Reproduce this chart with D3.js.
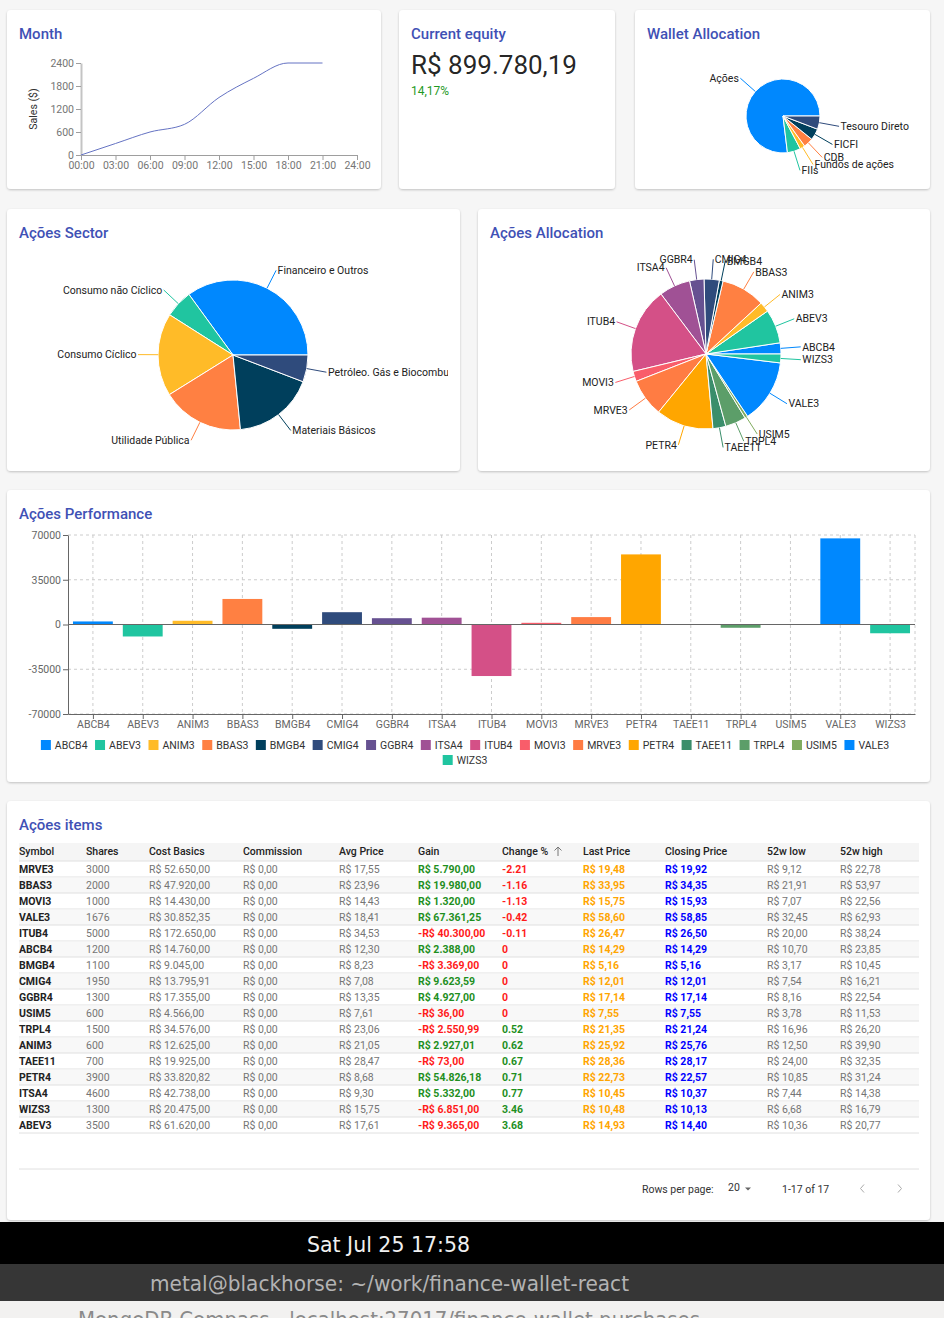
<!DOCTYPE html>
<html><head><meta charset="utf-8">
<script src="https://cdn.jsdelivr.net/npm/d3@7"></script>
<style>
html,body{margin:0;padding:0;background:#f6f6f6;overflow:hidden;}
svg{display:block;font-family:Roboto,"Noto Sans",sans-serif;}
</style></head><body>
<svg id="page" width="944" height="1318"></svg>
<script>
// ---------- DATA ----------
const monthTimes = [0, 3, 6, 9, 12, 15, 18, 21];
const monthSales = [0, 300, 600, 800, 1500, 2000, 2400, 2400];
const monthXTicks = [0, 3, 6, 9, 12, 15, 18, 21, 24];
const monthXTickLabels = ["00:00","03:00","06:00","09:00","12:00","15:00","18:00","21:00","24:00"];
const monthYTicks = [0, 600, 1200, 1800, 2400];

const equityText = "R$ 899.780,19";
const equityChangeText = "14,17%";

const walletCategories = ["Ações", "FIIs", "Fundos de ações", "CDB", "FICFI", "Tesouro Direto"];
const walletValues = [690000, 52000, 20000, 38000, 45000, 52000];

const sectorCategories = ["Financeiro e Outros", "Consumo não Cíclico", "Consumo Cíclico", "Utilidade Pública", "Materiais Básicos", "Petróleo. Gás e Biocombustíveis"];
const sectorValues = [211300, 36200, 107800, 107000, 106300, 35000];

const palette = ["#0088FE", "#20C5A0", "#FFBB28", "#FF8042", "#003f5c", "#2f4b7c", "#665191", "#a05195", "#d45087", "#f95d6a", "#ff7c43", "#ffa600", "#3a8e6b", "#5c9e69", "#80ac5f"];

// table (display order)
const symbols      = ["MRVE3","BBAS3","MOVI3","VALE3","ITUB4","ABCB4","BMGB4","CMIG4","GGBR4","USIM5","TRPL4","ANIM3","TAEE11","PETR4","ITSA4","WIZS3","ABEV3"];
const shares       = [3000, 2000, 1000, 1676, 5000, 1200, 1100, 1950, 1300, 600, 1500, 600, 700, 3900, 4600, 1300, 3500];
const costBasis    = [52650, 47920, 14430, 30852.35, 172650, 14760, 9045, 13795.91, 17355, 4566, 34576, 12625, 19925, 33820.82, 42738, 20475, 61620];
const commission   = [0,0,0,0,0,0,0,0,0,0,0,0,0,0,0,0,0];
const avgPrice     = [17.55, 23.96, 14.43, 18.41, 34.53, 12.30, 8.23, 7.08, 13.35, 7.61, 23.06, 21.05, 28.47, 8.68, 9.30, 15.75, 17.61];
const gain         = [5790, 19980, 1320, 67361.25, -40300, 2388, -3369, 9623.59, 4927, -36, -2550.99, 2927.01, -73, 54826.18, 5332, -6851, -9365];
const changePct    = [-2.21, -1.16, -1.13, -0.42, -0.11, 0, 0, 0, 0, 0, 0.52, 0.62, 0.67, 0.71, 0.77, 3.46, 3.68];
const lastPrice    = [19.48, 33.95, 15.75, 58.60, 26.47, 14.29, 5.16, 12.01, 17.14, 7.55, 21.35, 25.92, 28.36, 22.73, 10.45, 10.48, 14.93];
const closingPrice = [19.92, 34.35, 15.93, 58.85, 26.50, 14.29, 5.16, 12.01, 17.14, 7.55, 21.24, 25.76, 28.17, 22.57, 10.37, 10.13, 14.40];
const low52        = [9.12, 21.91, 7.07, 32.45, 20.00, 10.70, 3.17, 7.54, 8.16, 3.78, 16.96, 12.50, 24.00, 10.85, 7.44, 6.68, 10.36];
const high52       = [22.78, 53.97, 22.56, 62.93, 38.24, 23.85, 10.45, 16.21, 22.54, 11.53, 26.20, 39.90, 32.35, 31.24, 14.38, 16.79, 20.77];
const tableHeaders = ["Symbol","Shares","Cost Basics","Commission","Avg Price","Gain","Change %","Last Price","Closing Price","52w low","52w high"];

const perfYTicks = [70000, 35000, 0, -35000, -70000];

// ---------- HELPERS ----------
const svg = d3.select("#page");
const defs = svg.append("defs");
const f = defs.append("filter").attr("id","sh").attr("x","-5%").attr("y","-5%").attr("width","110%").attr("height","115%");
f.append("feDropShadow").attr("dx",0).attr("dy",1).attr("stdDeviation",1.3).attr("flood-color","#000").attr("flood-opacity",0.22);

const INDIGO = "#3f51b5";
function card(x, y, w, h, title) {
  svg.append("rect").attr("x",x).attr("y",y).attr("width",w).attr("height",h).attr("rx",4)
    .attr("fill","#fff").attr("filter","url(#sh)");
  if (title) svg.append("text").attr("x",x+12).attr("y",y+29).attr("fill",INDIGO)
    .attr("font-size",15).attr("font-weight",500).text(title);
}
const loc = d3.formatLocale({decimal:",", thousands:".", grouping:[3], currency:["R$ ",""], minus:"-"});
const brl = loc.format("$,.2f");
const plain = d3.formatLocale({decimal:".", thousands:"", grouping:[3], currency:["",""], minus:"-"}).format("d");

// ---------- CARDS ----------
card(7, 10, 374, 179, "Month");
card(399, 10, 216, 179, "Current equity");
card(635, 10, 295, 179, "Wallet Allocation");
card(7, 209, 453, 262, "Ações Sector");
card(478, 209, 452, 262, "Ações Allocation");
card(7, 490, 923, 292, "Ações Performance");
card(7, 801, 923, 419, "Ações items");

// ---------- MONTH LINE ----------
{
  const g = svg.append("g");
  const x = d3.scaleLinear().domain([0,24]).range([81,357]);
  const y = d3.scaleLinear().domain([0,2400]).range([155,63]);
  const xa = g.append("g").attr("transform","translate(0,155)")
    .call(d3.axisBottom(x).tickValues(monthXTicks).tickFormat((d,i)=>monthXTickLabels[i]).tickSizeOuter(0).tickSizeInner(5).tickPadding(1.5));
  const ya = g.append("g").attr("transform","translate(81,0)")
    .call(d3.axisLeft(y).tickValues(monthYTicks).tickFormat(plain).tickSizeOuter(0).tickSizeInner(5).tickPadding(2));
  [xa, ya].forEach(a => {
    a.select(".domain").attr("stroke","#9e9e9e");
    a.selectAll(".tick line").attr("stroke","#9e9e9e");
    a.selectAll(".tick text").attr("fill","#757575").attr("font-size",10.5).attr("font-family","Roboto");
  });
  ya.select(".domain").attr("stroke","#c4c4c4").attr("stroke-width",2);
  g.append("text").attr("transform","translate(37,109) rotate(-90)").attr("text-anchor","middle")
    .attr("font-size",10.5).attr("fill","#333").text("Sales ($)");
  const line = d3.line().x((d,i)=>x(monthTimes[i])).y(d=>y(d)).curve(d3.curveMonotoneX);
  g.append("path").datum(monthSales).attr("d",line).attr("fill","none").attr("stroke","#6573c3").attr("stroke-width",1);
}

// ---------- EQUITY ----------
svg.append("text").attr("x",411).attr("y",74).attr("font-size",26).attr("fill","rgba(0,0,0,0.87)").text(equityText);
svg.append("text").attr("x",411).attr("y",95).attr("font-size",12).attr("fill","#1f9a1f").text(equityChangeText);

// ---------- PIES ----------
function pie(cx, cy, r, cats, vals, clipRight) {
  const g = svg.append("g");
  let lg = g;
  if (clipRight) {
    const id = "clip" + Math.round(cx);
    defs.append("clipPath").attr("id",id).append("rect").attr("x",0).attr("y",0).attr("width",clipRight).attr("height",1318);
    lg = g.append("g").attr("clip-path",`url(#${id})`);
  }
  const arcs = d3.pie().sort(null).startAngle(Math.PI/2).endAngle(Math.PI/2 - 2*Math.PI)(vals);
  const arc = d3.arc().innerRadius(0).outerRadius(r);
  g.selectAll("path.s").data(arcs).join("path").attr("class","s")
    .attr("transform",`translate(${cx},${cy})`).attr("d",arc)
    .attr("fill",(d,i)=>palette[i % palette.length]).attr("stroke","#fff").attr("stroke-width",1);
  arcs.forEach((d,i) => {
    const a = (d.startAngle + d.endAngle)/2;
    const p = rr => [cx + rr*Math.sin(a), cy - rr*Math.cos(a)];
    const [x1,y1] = p(r), [x2,y2] = p(r+20);
    g.append("line").attr("x1",x1).attr("y1",y1).attr("x2",x2).attr("y2",y2)
      .attr("stroke",palette[i % palette.length]).attr("stroke-width",1);
    const right = x2 > cx;
    lg.append("text").attr("x",x2 + (right ? 1.5 : -1.5)).attr("y",y2).attr("dy","0.35em")
      .attr("text-anchor", right ? "start" : "end")
      .attr("font-size",10.5).attr("fill","#222").text(cats[i]);
  });
}
pie(783, 116, 37, walletCategories, walletValues);
pie(233, 355, 75, sectorCategories, sectorValues, 448);

// allocation: current value per symbol, alphabetical
const alphaIdx = d3.range(symbols.length).sort((a,b)=>d3.ascending(symbols[a],symbols[b]));
const allocCats = alphaIdx.map(i=>symbols[i]);
const allocVals = alphaIdx.map(i=>shares[i]*lastPrice[i]);
pie(706, 354, 75, allocCats, allocVals);

// ---------- PERFORMANCE BARS ----------
{
  const g = svg.append("g");
  const perfGain = alphaIdx.map(i=>gain[i]);
  const xc = d3.scalePoint().domain(allocCats).range([68,915]).padding(0.5);
  const y = d3.scaleLinear().domain([-70000,70000]).range([714,535]);
  // grid
  perfYTicks.forEach(t => g.append("line").attr("x1",68).attr("x2",915).attr("y1",y(t)).attr("y2",y(t))
      .attr("stroke","#ccc").attr("stroke-dasharray","3 3"));
  allocCats.forEach(c => g.append("line").attr("x1",xc(c)).attr("x2",xc(c)).attr("y1",535).attr("y2",714)
      .attr("stroke","#ccc").attr("stroke-dasharray","3 3"));
  g.append("line").attr("x1",915).attr("x2",915).attr("y1",535).attr("y2",714).attr("stroke","#ccc").attr("stroke-dasharray","3 3");
  // bars
  const bw = xc.step()*0.8;
  g.selectAll("rect.b").data(perfGain).join("rect").attr("class","b")
    .attr("x",(d,i)=>xc(allocCats[i]) - bw/2).attr("width",bw)
    .attr("y",d=>y(Math.max(0,d))).attr("height",d=>Math.abs(y(d)-y(0)))
    .attr("fill",(d,i)=>palette[i % palette.length]);
  // zero line
  g.append("line").attr("x1",68).attr("x2",915).attr("y1",y(0)).attr("y2",y(0)).attr("stroke","#666");
  // axes
  const ya = g.append("g").attr("transform","translate(68,0)").call(d3.axisLeft(y).tickValues(perfYTicks).tickFormat(plain).tickSizeOuter(0).tickSizeInner(5).tickPadding(2));
  const xa = g.append("g").attr("transform","translate(0,714)").call(d3.axisBottom(xc).tickSizeOuter(0).tickSizeInner(5).tickPadding(1.5));
  [xa,ya].forEach(a=>{
    a.select(".domain").attr("stroke","#666");
    a.selectAll(".tick line").attr("stroke","#666");
    a.selectAll(".tick text").attr("fill","#666").attr("font-size",10.5).attr("font-family","Roboto");
  });
  // legend
  const lgG = g.append("g");
  const items = allocCats.map((c,i)=>{
    const t = lgG.append("text").attr("font-size",10.5).attr("fill","#333").text(c);
    return {c, i, t, w: t.node().getComputedTextLength()};
  });
  const gap = 7.5, maxW = 870, centerX = 465;
  const rows = [[]]; let rw = 0;
  items.forEach(it => {
    const iw = 10 + 4 + it.w + gap;
    if (rw + iw > maxW && rows[rows.length-1].length) { rows.push([]); rw = 0; }
    rows[rows.length-1].push(it); rw += iw;
  });
  rows.forEach((row, ri) => {
    const total = d3.sum(row, it=>10+4+it.w+gap) - gap;
    let cx = centerX - total/2;
    const yy = 745 + ri*15;
    row.forEach(it => {
      lgG.append("rect").attr("x",cx).attr("y",yy-5).attr("width",10).attr("height",10).attr("fill",palette[it.i % palette.length]);
      it.t.attr("x",cx+14).attr("y",yy).attr("dy","0.35em");
      cx += 10+4+it.w+gap;
    });
  });
}

// ---------- TABLE ----------
{
  const g = svg.append("g").attr("font-size",10.5);
  const colX = [19, 86, 149, 243, 339, 418, 502, 583, 665, 767, 840];
  g.append("rect").attr("x",19).attr("y",843).attr("width",900).attr("height",18).attr("fill","#f5f5f5");
  tableHeaders.forEach((h,i)=> g.append("text").attr("x",colX[i]).attr("y",851).attr("dy","0.35em")
      .attr("font-weight",500).attr("fill","#222").text(h));
  // sort arrow
  g.append("path").attr("d","M558,847 L558,856 M554.5,850.5 L558,847 L561.5,850.5").attr("fill","none").attr("stroke","#777").attr("stroke-width",1);
  g.append("line").attr("x1",19).attr("x2",919).attr("y1",861).attr("y2",861).attr("stroke","#e0e0e0");
  symbols.forEach((s,r) => {
    const cy = 869 + r*16;
    if (r % 2 === 1) g.append("rect").attr("x",19).attr("y",cy-7.5).attr("width",900).attr("height",15.5).attr("fill","#f8f8f8");
    g.append("line").attr("x1",19).attr("x2",919).attr("y1",cy+8).attr("y2",cy+8).attr("stroke","#e0e0e0");
    const gr = "#757575";
    const cells = [
      [s, "#222", 700],
      [String(shares[r]), gr, 400],
      [brl(costBasis[r]), gr, 400],
      [brl(commission[r]), gr, 400],
      [brl(avgPrice[r]), gr, 400],
      [brl(gain[r]), gain[r] >= 0 ? "#1e8f1e" : "#ff1a1a", 700],
      [String(changePct[r]), changePct[r] > 0 ? "#1e8f1e" : "#ff1a1a", 700],
      [brl(lastPrice[r]), "#ffa500", 700],
      [brl(closingPrice[r]), "#0000ff", 700],
      [brl(low52[r]), gr, 400],
      [brl(high52[r]), gr, 400]
    ];
    cells.forEach((c,i)=> g.append("text").attr("x",colX[i]).attr("y",cy).attr("dy","0.35em")
      .attr("fill",c[1]).attr("font-weight",c[2]).text(c[0]));
  });
  // pagination
  g.append("line").attr("x1",19).attr("x2",919).attr("y1",1169).attr("y2",1169).attr("stroke","#e0e0e0");
  g.append("text").attr("x",642).attr("y",1189).attr("dy","0.35em").attr("fill","#333").text("Rows per page:");
  g.append("text").attr("x",728).attr("y",1187).attr("dy","0.35em").attr("fill","#333").text("20");
  g.append("path").attr("d","M745,1187.5 L751,1187.5 L748,1190.5 Z").attr("fill","#666");
  g.append("text").attr("x",782).attr("y",1189).attr("dy","0.35em").attr("fill","#333").text("1-17 of 17");
  g.append("path").attr("d","M864,1184.5 L860.5,1188.5 L864,1192.5").attr("fill","none").attr("stroke","#aaa");
  g.append("path").attr("d","M898,1184.5 L901.5,1188.5 L898,1192.5").attr("fill","none").attr("stroke","#aaa");
}

// ---------- DESKTOP BARS ----------
svg.append("rect").attr("x",0).attr("y",1222).attr("width",944).attr("height",42).attr("fill","#000");
svg.append("rect").attr("x",0).attr("y",1264).attr("width",944).attr("height",37).attr("fill","#363636");
svg.append("rect").attr("x",0).attr("y",1301).attr("width",944).attr("height",17).attr("fill","#f2f1f0");
svg.append("text").attr("x",307).attr("y",1251.5).attr("font-family","'DejaVu Sans Condensed','Liberation Sans Narrow',sans-serif")
  .attr("font-size",21).attr("fill","#f0f0f0").attr("textLength",163).attr("lengthAdjust","spacingAndGlyphs").text("Sat Jul 25  17:58");
svg.append("text").attr("x",150).attr("y",1291).attr("font-family","'DejaVu Sans Condensed','Liberation Sans Narrow',sans-serif")
  .attr("font-size",21).attr("fill","#b3b3b3").attr("textLength",479).attr("lengthAdjust","spacingAndGlyphs").text("metal@blackhorse: ~/work/finance-wallet-react");
svg.append("text").attr("x",78).attr("y",1327).attr("font-family","'DejaVu Sans Condensed','Liberation Sans Narrow',sans-serif")
  .attr("font-size",21).attr("fill","#8a8a8a").attr("textLength",622).attr("lengthAdjust","spacingAndGlyphs").text("MongoDB Compass - localhost:27017/finance-wallet.purchases");
</script>
</body></html>
